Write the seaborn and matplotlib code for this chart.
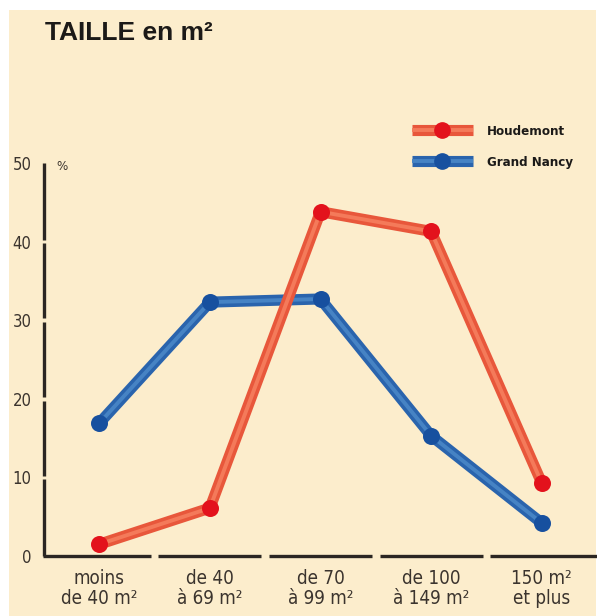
import numpy as np
import pandas as pd
import matplotlib
matplotlib.use("Agg")
import matplotlib.pyplot as plt
from matplotlib.lines import Line2D
from matplotlib.patches import Rectangle
import seaborn as sns

# Surface categories (m²) and share of dwellings (%)
categories = ["moins\nde 40 m²", "de 40\nà 69 m²", "de 70\nà 99 m²", "de 100\nà 149 m²", "150 m²\net plus"]
houdemont = [1.5, 6.1, 43.8, 41.3, 9.3]
grand_nancy = [16.9, 32.3, 32.7, 15.3, 4.2]
series_names = ["Houdemont", "Grand Nancy"]
y_ticks = [0, 10, 20, 30, 40, 50]

df = pd.DataFrame({
    "pos": np.tile(np.arange(len(categories)), 2),
    "value": houdemont + grand_nancy,
    "series": np.repeat(series_names, len(categories)),
})

sns.set_theme(style="white")
plt.rcParams["font.family"] = ["DejaVu Sans"]
plt.rcParams["font.stretch"] = "condensed"

BG = "#fcedcc"
INK = "#2b2622"
TXT = "#3b342e"
styles = {
    "Houdemont": dict(outer="#e8573b", inner="#f47a5a", dot="#e3121c"),
    "Grand Nancy": dict(outer="#2a64ad", inner="#4683c4", dot="#17509f"),
}

W, H = 597, 616
fig = plt.figure(figsize=(W / 100, H / 100), dpi=100, facecolor="white")
fig.patches.append(Rectangle((9 / W, 0), 587 / W, 606 / H, transform=fig.transFigure,
                             facecolor=BG, edgecolor="none", zorder=-10))

ax = fig.add_axes([44 / W, (H - 556) / H, 553 / W, (556 - 163) / H])
ax.set_facecolor("none")
ax.set_xlim(-0.5, len(categories) - 0.5)
ax.set_ylim(0, 50)

# Tube-like lines: thick dark stroke, lighter core, solid dots on top
for z, name in enumerate(["Grand Nancy", "Houdemont"]):
    sub = df[df["series"] == name]
    st = styles[name]
    sns.lineplot(data=sub, x="pos", y="value", color=st["outer"], linewidth=8,
                 solid_capstyle="round", solid_joinstyle="round", ax=ax,
                 legend=False, zorder=3 + 3 * z)
    sns.lineplot(data=sub, x="pos", y="value", color=st["inner"], linewidth=2.8,
                 solid_capstyle="round", solid_joinstyle="round", ax=ax,
                 legend=False, zorder=4 + 3 * z)
    sns.scatterplot(data=sub, x="pos", y="value", color=st["dot"], s=150,
                    linewidth=0, ax=ax, legend=False, zorder=5 + 3 * z, clip_on=False)

for sp in ax.spines.values():
    sp.set_visible(False)

# Segmented axes: y axis broken at each tick, x axis broken between categories
x0, x1 = ax.get_xlim()
gap_y = 0.22
bounds = y_ticks
for i in range(len(bounds) - 1):
    lo = bounds[i] + (gap_y if i > 0 else 0)
    hi = bounds[i + 1] - gap_y if i + 1 < len(bounds) - 1 else bounds[i + 1]
    ax.plot([x0, x0], [lo, hi], color=INK, lw=2.4, solid_capstyle="butt",
            clip_on=False, zorder=2)
gap_x = 0.035
edges = [x0] + [k + 0.5 for k in range(len(categories) - 1)] + [x1]
for i in range(len(edges) - 1):
    lo = edges[i] + (gap_x if i > 0 else -0.01)
    hi = edges[i + 1] - (gap_x if i + 1 < len(edges) - 1 else 0)
    ax.plot([lo, hi], [0, 0], color=INK, lw=2.4, solid_capstyle="butt",
            clip_on=False, zorder=2)

ax.set_xticks(np.arange(len(categories)))
ax.set_xticklabels(categories, fontsize=13.5, color=TXT, linespacing=1.1)
ax.set_yticks(y_ticks)
ax.set_yticklabels([str(v) for v in y_ticks], fontsize=12, color=TXT)
ax.tick_params(axis="x", length=0, pad=9)
ax.tick_params(axis="y", length=0, pad=9)
ax.set_xlabel("")
ax.set_ylabel("")
ax.text(0.023, 49.5, "%", transform=ax.get_yaxis_transform(), fontsize=9.5,
        color=TXT, va="center", ha="left")

fig.text(45 / W, 1 - 40 / H, "TAILLE en m²", fontsize=19, fontweight="bold",
         family=["Liberation Sans", "DejaVu Sans"], fontstretch="normal",
         color="#1c1a18", va="baseline")

handles = []
for name in series_names:
    st = styles[name]
    handles.append((Line2D([], [], color=st["outer"], lw=8, solid_capstyle="butt"),
                    Line2D([], [], color=st["inner"], lw=2.8, solid_capstyle="butt"),
                    Line2D([], [], color=st["dot"], lw=0, marker="o", markersize=11)))
leg = fig.legend(handles, series_names, loc="center left",
                 bbox_to_anchor=(412 / W, 1 - 147 / H), frameon=False,
                 handlelength=4.6, handletextpad=1.1, labelspacing=1.35,
                 prop=dict(size=9.5, weight="bold", stretch="condensed",
                           family=["DejaVu Sans"]),
                 borderpad=0, borderaxespad=0)
for t in leg.get_texts():
    t.set_color("#1c1a18")

fig.savefig("out.png", dpi=100, facecolor="white")
